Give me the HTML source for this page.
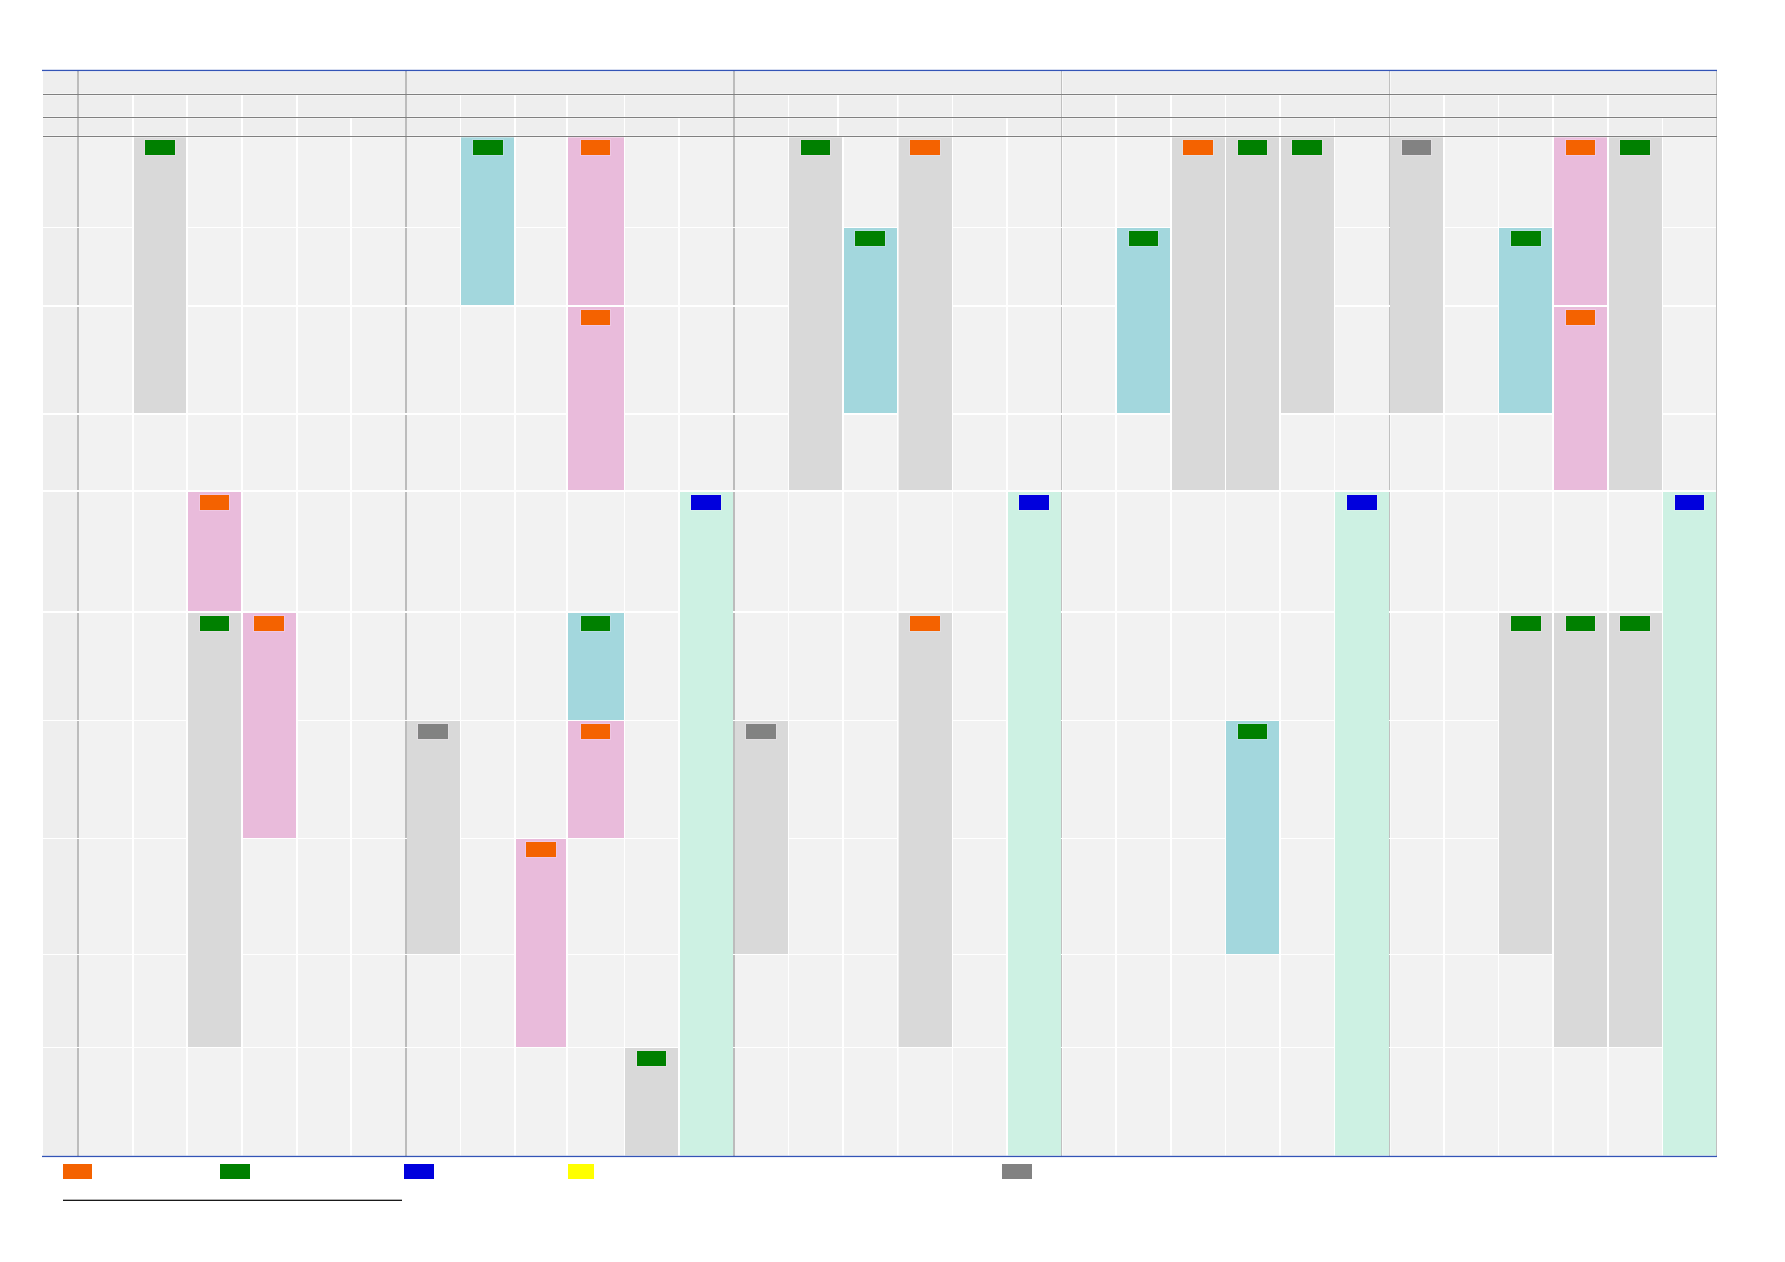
<!DOCTYPE html>
<html lang="en">
<head>
<meta charset="utf-8">
<title>Timetable</title>
<style>
html,body{margin:0;padding:0;background:#ffffff;}
body{width:1785px;height:1262px;overflow:hidden;font-family:"Liberation Sans",sans-serif;}
svg{display:block;}
</style>
</head>
<body>
<svg role="img" aria-label="Weekly timetable grid" width="1785" height="1262" viewBox="0 0 1785 1262">
<rect x="0" y="0" width="1785" height="1262" fill="#ffffff"/>
<g id="thead">
<rect x="43" y="71" width="34" height="23" fill="#eeeeee"/>
<rect x="79" y="71" width="326" height="23" fill="#eeeeee"/>
<rect x="407" y="71" width="326" height="23" fill="#eeeeee"/>
<rect x="735" y="71" width="326" height="23" fill="#eeeeee"/>
<rect x="1062.6" y="71" width="326.4" height="23" fill="#eeeeee"/>
<rect x="1390.6" y="71" width="325.4" height="23" fill="#eeeeee"/>
<rect x="43" y="95" width="34" height="22" fill="#eeeeee"/>
<rect x="79" y="95" width="53" height="22" fill="#eeeeee"/>
<rect x="134" y="95" width="52" height="22" fill="#eeeeee"/>
<rect x="188" y="95" width="53" height="22" fill="#eeeeee"/>
<rect x="243" y="95" width="53" height="22" fill="#eeeeee"/>
<rect x="298" y="95" width="107" height="22" fill="#eeeeee"/>
<rect x="407" y="95" width="53" height="22" fill="#eeeeee"/>
<rect x="461" y="95" width="53" height="22" fill="#eeeeee"/>
<rect x="516" y="95" width="50" height="22" fill="#eeeeee"/>
<rect x="568" y="95" width="56" height="22" fill="#eeeeee"/>
<rect x="625" y="95" width="108" height="22" fill="#eeeeee"/>
<rect x="735" y="95" width="53" height="22" fill="#eeeeee"/>
<rect x="789" y="95" width="48" height="22" fill="#eeeeee"/>
<rect x="839" y="95" width="58" height="22" fill="#eeeeee"/>
<rect x="898.6" y="95" width="53.4" height="22" fill="#eeeeee"/>
<rect x="953" y="95" width="108" height="22" fill="#eeeeee"/>
<rect x="1062.6" y="95" width="52.4" height="22" fill="#eeeeee"/>
<rect x="1117" y="95" width="53" height="22" fill="#eeeeee"/>
<rect x="1172" y="95" width="53" height="22" fill="#eeeeee"/>
<rect x="1226" y="95" width="53" height="22" fill="#eeeeee"/>
<rect x="1281" y="95" width="108" height="22" fill="#eeeeee"/>
<rect x="1390.6" y="95" width="52.4" height="22" fill="#eeeeee"/>
<rect x="1445" y="95" width="53" height="22" fill="#eeeeee"/>
<rect x="1499" y="95" width="53" height="22" fill="#eeeeee"/>
<rect x="1554" y="95" width="53" height="22" fill="#eeeeee"/>
<rect x="1609" y="95" width="107" height="22" fill="#eeeeee"/>
<rect x="43" y="118" width="34" height="18" fill="#eeeeee"/>
<rect x="79" y="118" width="53" height="18" fill="#eeeeee"/>
<rect x="134" y="118" width="52" height="18" fill="#eeeeee"/>
<rect x="188" y="118" width="53" height="18" fill="#eeeeee"/>
<rect x="243" y="118" width="53" height="18" fill="#eeeeee"/>
<rect x="298" y="118" width="52" height="18" fill="#eeeeee"/>
<rect x="352" y="118" width="53" height="18" fill="#eeeeee"/>
<rect x="407" y="118" width="53" height="18" fill="#eeeeee"/>
<rect x="461" y="118" width="53" height="18" fill="#eeeeee"/>
<rect x="516" y="118" width="50" height="18" fill="#eeeeee"/>
<rect x="568" y="118" width="56" height="18" fill="#eeeeee"/>
<rect x="625" y="118" width="53" height="18" fill="#eeeeee"/>
<rect x="680" y="118" width="53" height="18" fill="#eeeeee"/>
<rect x="735" y="118" width="53" height="18" fill="#eeeeee"/>
<rect x="789" y="118" width="48" height="18" fill="#eeeeee"/>
<rect x="839" y="118" width="58" height="18" fill="#eeeeee"/>
<rect x="898.6" y="118" width="53.4" height="18" fill="#eeeeee"/>
<rect x="953" y="118" width="53" height="18" fill="#eeeeee"/>
<rect x="1008" y="118" width="53" height="18" fill="#eeeeee"/>
<rect x="1062.6" y="118" width="52.4" height="18" fill="#eeeeee"/>
<rect x="1117" y="118" width="53" height="18" fill="#eeeeee"/>
<rect x="1172" y="118" width="53" height="18" fill="#eeeeee"/>
<rect x="1226" y="118" width="53" height="18" fill="#eeeeee"/>
<rect x="1281" y="118" width="53" height="18" fill="#eeeeee"/>
<rect x="1335" y="118" width="54" height="18" fill="#eeeeee"/>
<rect x="1390.6" y="118" width="52.4" height="18" fill="#eeeeee"/>
<rect x="1445" y="118" width="53" height="18" fill="#eeeeee"/>
<rect x="1499" y="118" width="53" height="18" fill="#eeeeee"/>
<rect x="1554" y="118" width="53" height="18" fill="#eeeeee"/>
<rect x="1609" y="118" width="53" height="18" fill="#eeeeee"/>
<rect x="1663" y="118" width="53" height="18" fill="#eeeeee"/>
</g>
<g id="tbody">
<rect x="43" y="137" width="34" height="90" fill="#eeeeee"/>
<rect x="79" y="137" width="53" height="90" fill="#f2f2f2"/>
<rect x="188" y="137" width="53" height="90" fill="#f2f2f2"/>
<rect x="243" y="137" width="53" height="90" fill="#f2f2f2"/>
<rect x="298" y="137" width="52" height="90" fill="#f2f2f2"/>
<rect x="352" y="137" width="53" height="90" fill="#f2f2f2"/>
<rect x="407" y="137" width="53" height="90" fill="#f2f2f2"/>
<rect x="516" y="137" width="50" height="90" fill="#f2f2f2"/>
<rect x="625" y="137" width="53" height="90" fill="#f2f2f2"/>
<rect x="680" y="137" width="53" height="90" fill="#f2f2f2"/>
<rect x="735" y="137" width="53" height="90" fill="#f2f2f2"/>
<rect x="844" y="137" width="53" height="90" fill="#f2f2f2"/>
<rect x="953" y="137" width="53" height="90" fill="#f2f2f2"/>
<rect x="1008" y="137" width="53" height="90" fill="#f2f2f2"/>
<rect x="1062.6" y="137" width="52.4" height="90" fill="#f2f2f2"/>
<rect x="1117" y="137" width="53" height="90" fill="#f2f2f2"/>
<rect x="1335" y="137" width="54" height="90" fill="#f2f2f2"/>
<rect x="1445" y="137" width="53" height="90" fill="#f2f2f2"/>
<rect x="1499" y="137" width="53" height="90" fill="#f2f2f2"/>
<rect x="1663" y="137" width="53" height="90" fill="#f2f2f2"/>
<rect x="43" y="228" width="34" height="77" fill="#eeeeee"/>
<rect x="79" y="228" width="53" height="77" fill="#f2f2f2"/>
<rect x="188" y="228" width="53" height="77" fill="#f2f2f2"/>
<rect x="243" y="228" width="53" height="77" fill="#f2f2f2"/>
<rect x="298" y="228" width="52" height="77" fill="#f2f2f2"/>
<rect x="352" y="228" width="53" height="77" fill="#f2f2f2"/>
<rect x="407" y="228" width="53" height="77" fill="#f2f2f2"/>
<rect x="516" y="228" width="50" height="77" fill="#f2f2f2"/>
<rect x="625" y="228" width="53" height="77" fill="#f2f2f2"/>
<rect x="680" y="228" width="53" height="77" fill="#f2f2f2"/>
<rect x="735" y="228" width="53" height="77" fill="#f2f2f2"/>
<rect x="953" y="228" width="53" height="77" fill="#f2f2f2"/>
<rect x="1008" y="228" width="53" height="77" fill="#f2f2f2"/>
<rect x="1062.6" y="228" width="52.4" height="77" fill="#f2f2f2"/>
<rect x="1335" y="228" width="54" height="77" fill="#f2f2f2"/>
<rect x="1445" y="228" width="53" height="77" fill="#f2f2f2"/>
<rect x="1663" y="228" width="53" height="77" fill="#f2f2f2"/>
<rect x="43" y="307" width="34" height="106" fill="#eeeeee"/>
<rect x="79" y="307" width="53" height="106" fill="#f2f2f2"/>
<rect x="188" y="307" width="53" height="106" fill="#f2f2f2"/>
<rect x="243" y="307" width="53" height="106" fill="#f2f2f2"/>
<rect x="298" y="307" width="52" height="106" fill="#f2f2f2"/>
<rect x="352" y="307" width="53" height="106" fill="#f2f2f2"/>
<rect x="407" y="307" width="53" height="106" fill="#f2f2f2"/>
<rect x="461" y="307" width="53" height="106" fill="#f2f2f2"/>
<rect x="516" y="307" width="50" height="106" fill="#f2f2f2"/>
<rect x="625" y="307" width="53" height="106" fill="#f2f2f2"/>
<rect x="680" y="307" width="53" height="106" fill="#f2f2f2"/>
<rect x="735" y="307" width="53" height="106" fill="#f2f2f2"/>
<rect x="953" y="307" width="53" height="106" fill="#f2f2f2"/>
<rect x="1008" y="307" width="53" height="106" fill="#f2f2f2"/>
<rect x="1062.6" y="307" width="52.4" height="106" fill="#f2f2f2"/>
<rect x="1335" y="307" width="54" height="106" fill="#f2f2f2"/>
<rect x="1445" y="307" width="53" height="106" fill="#f2f2f2"/>
<rect x="1663" y="307" width="53" height="106" fill="#f2f2f2"/>
<rect x="43" y="415" width="34" height="75" fill="#eeeeee"/>
<rect x="79" y="415" width="53" height="75" fill="#f2f2f2"/>
<rect x="134" y="415" width="52" height="75" fill="#f2f2f2"/>
<rect x="188" y="415" width="53" height="75" fill="#f2f2f2"/>
<rect x="243" y="415" width="53" height="75" fill="#f2f2f2"/>
<rect x="298" y="415" width="52" height="75" fill="#f2f2f2"/>
<rect x="352" y="415" width="53" height="75" fill="#f2f2f2"/>
<rect x="407" y="415" width="53" height="75" fill="#f2f2f2"/>
<rect x="461" y="415" width="53" height="75" fill="#f2f2f2"/>
<rect x="516" y="415" width="50" height="75" fill="#f2f2f2"/>
<rect x="625" y="415" width="53" height="75" fill="#f2f2f2"/>
<rect x="680" y="415" width="53" height="75" fill="#f2f2f2"/>
<rect x="735" y="415" width="53" height="75" fill="#f2f2f2"/>
<rect x="844" y="415" width="53" height="75" fill="#f2f2f2"/>
<rect x="953" y="415" width="53" height="75" fill="#f2f2f2"/>
<rect x="1008" y="415" width="53" height="75" fill="#f2f2f2"/>
<rect x="1062.6" y="415" width="52.4" height="75" fill="#f2f2f2"/>
<rect x="1117" y="415" width="53" height="75" fill="#f2f2f2"/>
<rect x="1281" y="415" width="53" height="75" fill="#f2f2f2"/>
<rect x="1335" y="415" width="54" height="75" fill="#f2f2f2"/>
<rect x="1390.6" y="415" width="52.4" height="75" fill="#f2f2f2"/>
<rect x="1445" y="415" width="53" height="75" fill="#f2f2f2"/>
<rect x="1499" y="415" width="53" height="75" fill="#f2f2f2"/>
<rect x="1663" y="415" width="53" height="75" fill="#f2f2f2"/>
<rect x="43" y="492" width="34" height="119" fill="#eeeeee"/>
<rect x="79" y="492" width="53" height="119" fill="#f2f2f2"/>
<rect x="134" y="492" width="52" height="119" fill="#f2f2f2"/>
<rect x="243" y="492" width="53" height="119" fill="#f2f2f2"/>
<rect x="298" y="492" width="52" height="119" fill="#f2f2f2"/>
<rect x="352" y="492" width="53" height="119" fill="#f2f2f2"/>
<rect x="407" y="492" width="53" height="119" fill="#f2f2f2"/>
<rect x="461" y="492" width="53" height="119" fill="#f2f2f2"/>
<rect x="516" y="492" width="50" height="119" fill="#f2f2f2"/>
<rect x="568" y="492" width="56" height="119" fill="#f2f2f2"/>
<rect x="625" y="492" width="53" height="119" fill="#f2f2f2"/>
<rect x="735" y="492" width="53" height="119" fill="#f2f2f2"/>
<rect x="789" y="492" width="53" height="119" fill="#f2f2f2"/>
<rect x="844" y="492" width="53" height="119" fill="#f2f2f2"/>
<rect x="898.6" y="492" width="53.4" height="119" fill="#f2f2f2"/>
<rect x="953" y="492" width="53" height="119" fill="#f2f2f2"/>
<rect x="1062.6" y="492" width="52.4" height="119" fill="#f2f2f2"/>
<rect x="1117" y="492" width="53" height="119" fill="#f2f2f2"/>
<rect x="1172" y="492" width="53" height="119" fill="#f2f2f2"/>
<rect x="1226" y="492" width="53" height="119" fill="#f2f2f2"/>
<rect x="1281" y="492" width="53" height="119" fill="#f2f2f2"/>
<rect x="1390.6" y="492" width="52.4" height="119" fill="#f2f2f2"/>
<rect x="1445" y="492" width="53" height="119" fill="#f2f2f2"/>
<rect x="1499" y="492" width="53" height="119" fill="#f2f2f2"/>
<rect x="1554" y="492" width="53" height="119" fill="#f2f2f2"/>
<rect x="1609" y="492" width="53" height="119" fill="#f2f2f2"/>
<rect x="43" y="613" width="34" height="107" fill="#eeeeee"/>
<rect x="79" y="613" width="53" height="107" fill="#f2f2f2"/>
<rect x="134" y="613" width="52" height="107" fill="#f2f2f2"/>
<rect x="298" y="613" width="52" height="107" fill="#f2f2f2"/>
<rect x="352" y="613" width="53" height="107" fill="#f2f2f2"/>
<rect x="407" y="613" width="53" height="107" fill="#f2f2f2"/>
<rect x="461" y="613" width="53" height="107" fill="#f2f2f2"/>
<rect x="516" y="613" width="50" height="107" fill="#f2f2f2"/>
<rect x="625" y="613" width="53" height="107" fill="#f2f2f2"/>
<rect x="735" y="613" width="53" height="107" fill="#f2f2f2"/>
<rect x="789" y="613" width="53" height="107" fill="#f2f2f2"/>
<rect x="844" y="613" width="53" height="107" fill="#f2f2f2"/>
<rect x="953" y="613" width="53" height="107" fill="#f2f2f2"/>
<rect x="1062.6" y="613" width="52.4" height="107" fill="#f2f2f2"/>
<rect x="1117" y="613" width="53" height="107" fill="#f2f2f2"/>
<rect x="1172" y="613" width="53" height="107" fill="#f2f2f2"/>
<rect x="1226" y="613" width="53" height="107" fill="#f2f2f2"/>
<rect x="1281" y="613" width="53" height="107" fill="#f2f2f2"/>
<rect x="1390.6" y="613" width="52.4" height="107" fill="#f2f2f2"/>
<rect x="1445" y="613" width="53" height="107" fill="#f2f2f2"/>
<rect x="43" y="721" width="34" height="117" fill="#eeeeee"/>
<rect x="79" y="721" width="53" height="117" fill="#f2f2f2"/>
<rect x="134" y="721" width="52" height="117" fill="#f2f2f2"/>
<rect x="298" y="721" width="52" height="117" fill="#f2f2f2"/>
<rect x="352" y="721" width="53" height="117" fill="#f2f2f2"/>
<rect x="461" y="721" width="53" height="117" fill="#f2f2f2"/>
<rect x="516" y="721" width="50" height="117" fill="#f2f2f2"/>
<rect x="625" y="721" width="53" height="117" fill="#f2f2f2"/>
<rect x="789" y="721" width="53" height="117" fill="#f2f2f2"/>
<rect x="844" y="721" width="53" height="117" fill="#f2f2f2"/>
<rect x="953" y="721" width="53" height="117" fill="#f2f2f2"/>
<rect x="1062.6" y="721" width="52.4" height="117" fill="#f2f2f2"/>
<rect x="1117" y="721" width="53" height="117" fill="#f2f2f2"/>
<rect x="1172" y="721" width="53" height="117" fill="#f2f2f2"/>
<rect x="1281" y="721" width="53" height="117" fill="#f2f2f2"/>
<rect x="1390.6" y="721" width="52.4" height="117" fill="#f2f2f2"/>
<rect x="1445" y="721" width="53" height="117" fill="#f2f2f2"/>
<rect x="43" y="839" width="34" height="115" fill="#eeeeee"/>
<rect x="79" y="839" width="53" height="115" fill="#f2f2f2"/>
<rect x="134" y="839" width="52" height="115" fill="#f2f2f2"/>
<rect x="243" y="839" width="53" height="115" fill="#f2f2f2"/>
<rect x="298" y="839" width="52" height="115" fill="#f2f2f2"/>
<rect x="352" y="839" width="53" height="115" fill="#f2f2f2"/>
<rect x="461" y="839" width="53" height="115" fill="#f2f2f2"/>
<rect x="568" y="839" width="56" height="115" fill="#f2f2f2"/>
<rect x="625" y="839" width="53" height="115" fill="#f2f2f2"/>
<rect x="789" y="839" width="53" height="115" fill="#f2f2f2"/>
<rect x="844" y="839" width="53" height="115" fill="#f2f2f2"/>
<rect x="953" y="839" width="53" height="115" fill="#f2f2f2"/>
<rect x="1062.6" y="839" width="52.4" height="115" fill="#f2f2f2"/>
<rect x="1117" y="839" width="53" height="115" fill="#f2f2f2"/>
<rect x="1172" y="839" width="53" height="115" fill="#f2f2f2"/>
<rect x="1281" y="839" width="53" height="115" fill="#f2f2f2"/>
<rect x="1390.6" y="839" width="52.4" height="115" fill="#f2f2f2"/>
<rect x="1445" y="839" width="53" height="115" fill="#f2f2f2"/>
<rect x="43" y="955" width="34" height="92" fill="#eeeeee"/>
<rect x="79" y="955" width="53" height="92" fill="#f2f2f2"/>
<rect x="134" y="955" width="52" height="92" fill="#f2f2f2"/>
<rect x="243" y="955" width="53" height="92" fill="#f2f2f2"/>
<rect x="298" y="955" width="52" height="92" fill="#f2f2f2"/>
<rect x="352" y="955" width="53" height="92" fill="#f2f2f2"/>
<rect x="407" y="955" width="53" height="92" fill="#f2f2f2"/>
<rect x="461" y="955" width="53" height="92" fill="#f2f2f2"/>
<rect x="568" y="955" width="56" height="92" fill="#f2f2f2"/>
<rect x="625" y="955" width="53" height="92" fill="#f2f2f2"/>
<rect x="735" y="955" width="53" height="92" fill="#f2f2f2"/>
<rect x="789" y="955" width="53" height="92" fill="#f2f2f2"/>
<rect x="844" y="955" width="53" height="92" fill="#f2f2f2"/>
<rect x="953" y="955" width="53" height="92" fill="#f2f2f2"/>
<rect x="1062.6" y="955" width="52.4" height="92" fill="#f2f2f2"/>
<rect x="1117" y="955" width="53" height="92" fill="#f2f2f2"/>
<rect x="1172" y="955" width="53" height="92" fill="#f2f2f2"/>
<rect x="1226" y="955" width="53" height="92" fill="#f2f2f2"/>
<rect x="1281" y="955" width="53" height="92" fill="#f2f2f2"/>
<rect x="1390.6" y="955" width="52.4" height="92" fill="#f2f2f2"/>
<rect x="1445" y="955" width="53" height="92" fill="#f2f2f2"/>
<rect x="1499" y="955" width="53" height="92" fill="#f2f2f2"/>
<rect x="43" y="1048" width="34" height="107.5" fill="#eeeeee"/>
<rect x="79" y="1048" width="53" height="107.5" fill="#f2f2f2"/>
<rect x="134" y="1048" width="52" height="107.5" fill="#f2f2f2"/>
<rect x="188" y="1048" width="53" height="107.5" fill="#f2f2f2"/>
<rect x="243" y="1048" width="53" height="107.5" fill="#f2f2f2"/>
<rect x="298" y="1048" width="52" height="107.5" fill="#f2f2f2"/>
<rect x="352" y="1048" width="53" height="107.5" fill="#f2f2f2"/>
<rect x="407" y="1048" width="53" height="107.5" fill="#f2f2f2"/>
<rect x="461" y="1048" width="53" height="107.5" fill="#f2f2f2"/>
<rect x="516" y="1048" width="50" height="107.5" fill="#f2f2f2"/>
<rect x="568" y="1048" width="56" height="107.5" fill="#f2f2f2"/>
<rect x="735" y="1048" width="53" height="107.5" fill="#f2f2f2"/>
<rect x="789" y="1048" width="53" height="107.5" fill="#f2f2f2"/>
<rect x="844" y="1048" width="53" height="107.5" fill="#f2f2f2"/>
<rect x="898.6" y="1048" width="53.4" height="107.5" fill="#f2f2f2"/>
<rect x="953" y="1048" width="53" height="107.5" fill="#f2f2f2"/>
<rect x="1062.6" y="1048" width="52.4" height="107.5" fill="#f2f2f2"/>
<rect x="1117" y="1048" width="53" height="107.5" fill="#f2f2f2"/>
<rect x="1172" y="1048" width="53" height="107.5" fill="#f2f2f2"/>
<rect x="1226" y="1048" width="53" height="107.5" fill="#f2f2f2"/>
<rect x="1281" y="1048" width="53" height="107.5" fill="#f2f2f2"/>
<rect x="1390.6" y="1048" width="52.4" height="107.5" fill="#f2f2f2"/>
<rect x="1445" y="1048" width="53" height="107.5" fill="#f2f2f2"/>
<rect x="1499" y="1048" width="53" height="107.5" fill="#f2f2f2"/>
<rect x="1554" y="1048" width="53" height="107.5" fill="#f2f2f2"/>
<rect x="1609" y="1048" width="53" height="107.5" fill="#f2f2f2"/>
<rect x="134" y="137" width="52" height="276" fill="#d9d9d9"/>
<rect x="144" y="139" width="32" height="17" fill="#fff0ff" fill-opacity="0.22"/>
<rect x="145" y="140" width="30" height="15" fill="#008000"/>
<rect x="188" y="492" width="53" height="119" fill="#e9bbdb"/>
<rect x="199" y="494" width="31" height="17" fill="#fff0ff" fill-opacity="0.22"/>
<rect x="200" y="495" width="29" height="15" fill="#f46200"/>
<rect x="188" y="613" width="53" height="434" fill="#d9d9d9"/>
<rect x="199" y="615" width="31" height="17" fill="#fff0ff" fill-opacity="0.22"/>
<rect x="200" y="616" width="29" height="15" fill="#008000"/>
<rect x="243" y="613" width="53" height="225" fill="#e9bbdb"/>
<rect x="253" y="615" width="32" height="17" fill="#fff0ff" fill-opacity="0.22"/>
<rect x="254" y="616" width="30" height="15" fill="#f46200"/>
<rect x="461" y="137" width="53" height="168" fill="#a3d7dd"/>
<rect x="472" y="139" width="32" height="17" fill="#fff0ff" fill-opacity="0.22"/>
<rect x="473" y="140" width="30" height="15" fill="#008000"/>
<rect x="568" y="137" width="56" height="168" fill="#e9bbdb"/>
<rect x="580" y="139" width="31" height="17" fill="#fff0ff" fill-opacity="0.22"/>
<rect x="581" y="140" width="29" height="15" fill="#f46200"/>
<rect x="568" y="307" width="56" height="183" fill="#e9bbdb"/>
<rect x="580" y="309" width="31" height="17" fill="#fff0ff" fill-opacity="0.22"/>
<rect x="581" y="310" width="29" height="15" fill="#f46200"/>
<rect x="680" y="492" width="53" height="663.5" fill="#cdf1e3"/>
<rect x="690" y="494" width="32" height="17" fill="#fff0ff" fill-opacity="0.22"/>
<rect x="691" y="495" width="30" height="15" fill="#0000dd"/>
<rect x="568" y="613" width="56" height="107" fill="#a3d7dd"/>
<rect x="580" y="615" width="31" height="17" fill="#fff0ff" fill-opacity="0.22"/>
<rect x="581" y="616" width="29" height="15" fill="#008000"/>
<rect x="568" y="721" width="56" height="117" fill="#e9bbdb"/>
<rect x="580" y="723" width="31" height="17" fill="#fff0ff" fill-opacity="0.22"/>
<rect x="581" y="724" width="29" height="15" fill="#f46200"/>
<rect x="407" y="721" width="53" height="233" fill="#d9d9d9"/>
<rect x="417" y="723" width="32" height="17" fill="#fff0ff" fill-opacity="0.22"/>
<rect x="418" y="724" width="30" height="15" fill="#828282"/>
<rect x="516" y="839" width="50" height="208" fill="#e9bbdb"/>
<rect x="525" y="841" width="32" height="17" fill="#fff0ff" fill-opacity="0.22"/>
<rect x="526" y="842" width="30" height="15" fill="#f46200"/>
<rect x="625" y="1048" width="53" height="107.5" fill="#d9d9d9"/>
<rect x="636" y="1050" width="31" height="17" fill="#fff0ff" fill-opacity="0.22"/>
<rect x="637" y="1051" width="29" height="15" fill="#008000"/>
<rect x="789" y="137" width="53" height="353" fill="#d9d9d9"/>
<rect x="800" y="139" width="31" height="17" fill="#fff0ff" fill-opacity="0.22"/>
<rect x="801" y="140" width="29" height="15" fill="#008000"/>
<rect x="844" y="228" width="53" height="185" fill="#a3d7dd"/>
<rect x="854" y="230" width="32" height="17" fill="#fff0ff" fill-opacity="0.22"/>
<rect x="855" y="231" width="30" height="15" fill="#008000"/>
<rect x="898.6" y="137" width="53.4" height="353" fill="#d9d9d9"/>
<rect x="909" y="139" width="32" height="17" fill="#fff0ff" fill-opacity="0.22"/>
<rect x="910" y="140" width="30" height="15" fill="#f46200"/>
<rect x="1008" y="492" width="53" height="663.5" fill="#cdf1e3"/>
<rect x="1018" y="494" width="32" height="17" fill="#fff0ff" fill-opacity="0.22"/>
<rect x="1019" y="495" width="30" height="15" fill="#0000dd"/>
<rect x="898.6" y="613" width="53.4" height="434" fill="#d9d9d9"/>
<rect x="909" y="615" width="32" height="17" fill="#fff0ff" fill-opacity="0.22"/>
<rect x="910" y="616" width="30" height="15" fill="#f46200"/>
<rect x="735" y="721" width="53" height="233" fill="#d9d9d9"/>
<rect x="745" y="723" width="32" height="17" fill="#fff0ff" fill-opacity="0.22"/>
<rect x="746" y="724" width="30" height="15" fill="#828282"/>
<rect x="1117" y="228" width="53" height="185" fill="#a3d7dd"/>
<rect x="1128" y="230" width="31" height="17" fill="#fff0ff" fill-opacity="0.22"/>
<rect x="1129" y="231" width="29" height="15" fill="#008000"/>
<rect x="1172" y="137" width="53" height="353" fill="#d9d9d9"/>
<rect x="1182" y="139" width="32" height="17" fill="#fff0ff" fill-opacity="0.22"/>
<rect x="1183" y="140" width="30" height="15" fill="#f46200"/>
<rect x="1226" y="137" width="53" height="353" fill="#d9d9d9"/>
<rect x="1237" y="139" width="31" height="17" fill="#fff0ff" fill-opacity="0.22"/>
<rect x="1238" y="140" width="29" height="15" fill="#008000"/>
<rect x="1281" y="137" width="53" height="276" fill="#d9d9d9"/>
<rect x="1291" y="139" width="32" height="17" fill="#fff0ff" fill-opacity="0.22"/>
<rect x="1292" y="140" width="30" height="15" fill="#008000"/>
<rect x="1335" y="492" width="54" height="663.5" fill="#cdf1e3"/>
<rect x="1346" y="494" width="32" height="17" fill="#fff0ff" fill-opacity="0.22"/>
<rect x="1347" y="495" width="30" height="15" fill="#0000dd"/>
<rect x="1226" y="721" width="53" height="233" fill="#a3d7dd"/>
<rect x="1237" y="723" width="31" height="17" fill="#fff0ff" fill-opacity="0.22"/>
<rect x="1238" y="724" width="29" height="15" fill="#008000"/>
<rect x="1390" y="137" width="53" height="276" fill="#d9d9d9"/>
<rect x="1401" y="139" width="31" height="17" fill="#fff0ff" fill-opacity="0.22"/>
<rect x="1402" y="140" width="29" height="15" fill="#828282"/>
<rect x="1499" y="228" width="53" height="185" fill="#a3d7dd"/>
<rect x="1510" y="230" width="32" height="17" fill="#fff0ff" fill-opacity="0.22"/>
<rect x="1511" y="231" width="30" height="15" fill="#008000"/>
<rect x="1554" y="137" width="53" height="168" fill="#e9bbdb"/>
<rect x="1565" y="139" width="31" height="17" fill="#fff0ff" fill-opacity="0.22"/>
<rect x="1566" y="140" width="29" height="15" fill="#f46200"/>
<rect x="1554" y="307" width="53" height="183" fill="#e9bbdb"/>
<rect x="1565" y="309" width="31" height="17" fill="#fff0ff" fill-opacity="0.22"/>
<rect x="1566" y="310" width="29" height="15" fill="#f46200"/>
<rect x="1609" y="137" width="53" height="353" fill="#d9d9d9"/>
<rect x="1619" y="139" width="32" height="17" fill="#fff0ff" fill-opacity="0.22"/>
<rect x="1620" y="140" width="30" height="15" fill="#008000"/>
<rect x="1663" y="492" width="53" height="663.5" fill="#cdf1e3"/>
<rect x="1674" y="494" width="31" height="17" fill="#fff0ff" fill-opacity="0.22"/>
<rect x="1675" y="495" width="29" height="15" fill="#0000dd"/>
<rect x="1499" y="613" width="53" height="341" fill="#d9d9d9"/>
<rect x="1510" y="615" width="32" height="17" fill="#fff0ff" fill-opacity="0.22"/>
<rect x="1511" y="616" width="30" height="15" fill="#008000"/>
<rect x="1554" y="613" width="53" height="434" fill="#d9d9d9"/>
<rect x="1565" y="615" width="31" height="17" fill="#fff0ff" fill-opacity="0.22"/>
<rect x="1566" y="616" width="29" height="15" fill="#008000"/>
<rect x="1609" y="613" width="53" height="434" fill="#d9d9d9"/>
<rect x="1619" y="615" width="32" height="17" fill="#fff0ff" fill-opacity="0.22"/>
<rect x="1620" y="616" width="30" height="15" fill="#008000"/>
</g>
<g id="rules">
<rect x="43" y="71" width="1674" height="1" fill="#ffffff" fill-opacity="0.55"/>
<rect x="43" y="93.3" width="1674" height="2.4" fill="#ffffff" fill-opacity="0.5"/>
<rect x="43" y="116.3" width="1674" height="2.4" fill="#ffffff" fill-opacity="0.5"/>
<rect x="43" y="135.3" width="1674" height="2.4" fill="#ffffff" fill-opacity="0.5"/>
<rect x="77" y="71" width="2" height="66" fill="#bcbcbc"/>
<rect x="77" y="137" width="2" height="90" fill="#bcbcbc"/>
<rect x="77" y="228" width="2" height="77" fill="#bcbcbc"/>
<rect x="77" y="307" width="2" height="106" fill="#bcbcbc"/>
<rect x="77" y="415" width="2" height="75" fill="#bcbcbc"/>
<rect x="77" y="492" width="2" height="119" fill="#bcbcbc"/>
<rect x="77" y="613" width="2" height="107" fill="#bcbcbc"/>
<rect x="77" y="721" width="2" height="117" fill="#bcbcbc"/>
<rect x="77" y="839" width="2" height="115" fill="#bcbcbc"/>
<rect x="77" y="955" width="2" height="92" fill="#bcbcbc"/>
<rect x="77" y="1048" width="2" height="108" fill="#bcbcbc"/>
<rect x="405" y="71" width="2" height="66" fill="#bcbcbc"/>
<rect x="405" y="137" width="2" height="90" fill="#bcbcbc"/>
<rect x="405" y="228" width="2" height="77" fill="#bcbcbc"/>
<rect x="405" y="307" width="2" height="106" fill="#bcbcbc"/>
<rect x="405" y="415" width="2" height="75" fill="#bcbcbc"/>
<rect x="405" y="492" width="2" height="119" fill="#bcbcbc"/>
<rect x="405" y="613" width="2" height="107" fill="#bcbcbc"/>
<rect x="405" y="721" width="2" height="117" fill="#bcbcbc"/>
<rect x="405" y="839" width="2" height="115" fill="#bcbcbc"/>
<rect x="405" y="955" width="2" height="92" fill="#bcbcbc"/>
<rect x="405" y="1048" width="2" height="108" fill="#bcbcbc"/>
<rect x="733" y="71" width="2" height="66" fill="#bcbcbc"/>
<rect x="733" y="137" width="2" height="90" fill="#bcbcbc"/>
<rect x="733" y="228" width="2" height="77" fill="#bcbcbc"/>
<rect x="733" y="307" width="2" height="106" fill="#bcbcbc"/>
<rect x="733" y="415" width="2" height="75" fill="#bcbcbc"/>
<rect x="733" y="492" width="2" height="119" fill="#bcbcbc"/>
<rect x="733" y="613" width="2" height="107" fill="#bcbcbc"/>
<rect x="733" y="721" width="2" height="233" fill="#bcbcbc"/>
<rect x="733" y="955" width="2" height="92" fill="#bcbcbc"/>
<rect x="733" y="1048" width="2" height="108" fill="#bcbcbc"/>
<rect x="1061" y="71" width="1" height="66" fill="#c0c0c0"/>
<rect x="1061" y="137" width="1" height="90" fill="#c0c0c0"/>
<rect x="1061" y="228" width="1" height="77" fill="#c0c0c0"/>
<rect x="1061" y="307" width="1" height="106" fill="#c0c0c0"/>
<rect x="1061" y="415" width="1" height="75" fill="#c0c0c0"/>
<rect x="1061" y="492" width="1" height="119" fill="#c0c0c0"/>
<rect x="1061" y="613" width="1" height="107" fill="#c0c0c0"/>
<rect x="1061" y="721" width="1" height="117" fill="#c0c0c0"/>
<rect x="1061" y="839" width="1" height="115" fill="#c0c0c0"/>
<rect x="1061" y="955" width="1" height="92" fill="#c0c0c0"/>
<rect x="1061" y="1048" width="1" height="108" fill="#c0c0c0"/>
<rect x="1389" y="71" width="1" height="66" fill="#c0c0c0"/>
<rect x="1389" y="137" width="1" height="90" fill="#c0c0c0"/>
<rect x="1389" y="228" width="1" height="77" fill="#c0c0c0"/>
<rect x="1389" y="307" width="1" height="106" fill="#c0c0c0"/>
<rect x="1389" y="415" width="1" height="75" fill="#c0c0c0"/>
<rect x="1389" y="492" width="1" height="119" fill="#c0c0c0"/>
<rect x="1389" y="613" width="1" height="107" fill="#c0c0c0"/>
<rect x="1389" y="721" width="1" height="117" fill="#c0c0c0"/>
<rect x="1389" y="839" width="1" height="115" fill="#c0c0c0"/>
<rect x="1389" y="955" width="1" height="92" fill="#c0c0c0"/>
<rect x="1389" y="1048" width="1" height="108" fill="#c0c0c0"/>
<rect x="1716" y="71" width="1" height="66" fill="#c0c0c0"/>
<rect x="1716" y="137" width="1" height="1019" fill="#c0c0c0"/>
<rect x="43" y="94" width="1674" height="1" fill="#808080"/>
<rect x="43" y="117" width="1674" height="1" fill="#808080"/>
<rect x="43" y="136" width="1674" height="1" fill="#808080"/>
<rect x="42" y="69.8" width="1675" height="1.3" fill="#3354b6"/>
<rect x="42" y="1155.8" width="1675" height="1.3" fill="#3354b6"/>
</g>
<g id="legend">
<rect x="63" y="1164" width="29" height="15" fill="#f46200"/>
<rect x="220" y="1164" width="30" height="15" fill="#008000"/>
<rect x="404" y="1164" width="30" height="15" fill="#0000dd"/>
<rect x="568" y="1164" width="26" height="15" fill="#ffff00"/>
<rect x="1002" y="1164" width="30" height="15" fill="#828282"/>
<rect x="63" y="1199.7" width="339" height="1.2" fill="#000000"/>
</g>
</svg>
</body>
</html>
